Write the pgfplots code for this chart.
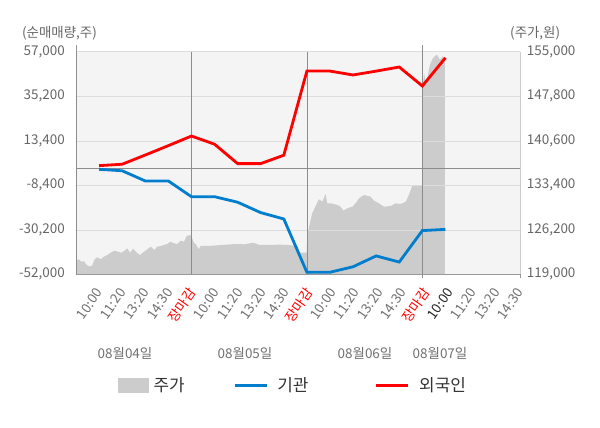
\documentclass[border=0pt]{standalone}
\usepackage{fontspec}
\setmainfont{Noto Sans CJK KR}
\usepackage{pgfplots}
\pgfplotsset{compat=1.18}
\definecolor{bg}{HTML}{F4F4F4}
\definecolor{areagrey}{HTML}{CCCCCC}
\definecolor{gridgrey}{HTML}{DCDCDC}
\definecolor{daygrey}{HTML}{8C8C8C}
\definecolor{axisgrey}{HTML}{999999}
\definecolor{rightaxis}{HTML}{CCCCCC}
\definecolor{labelgrey}{HTML}{666666}
\definecolor{xlabelgrey}{HTML}{707070}
\definecolor{darklabel}{HTML}{222222}
\definecolor{blueline}{RGB}{0,125,205}
\definecolor{redline}{HTML}{FF0000}
\newcommand{\tf}{\fontsize{13.5}{15}\selectfont}
\newcommand{\xl}[1]{{\tf #1}}
\newcommand{\xr}[1]{{\tf\color{redline}#1}}
\pgfplotsset{every axis/.append style={
  /pgf/number format/fixed, /pgf/number format/precision=0,
  /pgf/number format/1000 sep={,},
  /pgf/number format/assume math mode=true}}
\begin{document}
\begin{tikzpicture}
\useasboundingbox (-76bp,-153.7bp) rectangle (524bp,274.3bp);
% price (right axis)
\begin{axis}[at={(0,0)}, anchor=south west, scale only axis,
  width=444bp, height=222.6bp,
  xmin=0, xmax=19.23, ymin=119000, ymax=155000,
  axis x line=none, axis y line*=right,
  y axis line style={draw=rightaxis},
  ytick={119000,126200,133400,140600,147800,155000},
  major tick length=0,
  scaled y ticks=false,
  yticklabel style={anchor=west, inner sep=0pt, xshift=6.7bp, text=labelgrey, font=\tf},
  axis background/.style={fill=bg},
]
\addplot[fill=areagrey, draw=none] coordinates {
(0,121200) (0.13,121430) (0.23,121040) (0.35,121100) (0.46,120500) (0.61,120230)
(0.71,120500) (0.81,121430) (0.92,121750) (1.07,121430) (1.21,121850) (1.36,122120)
(1.5,122490) (1.67,122820) (1.82,122650) (1.96,122490) (2.11,122820) (2.22,123200)
(2.34,122490) (2.48,123140) (2.63,122490) (2.77,122120) (2.95,122650) (3.09,123040)
(3.24,123460) (3.38,122930) (3.52,123460) (3.67,123580) (3.81,123740) (3.95,123900)
(4.1,124270) (4.24,124010) (4.39,123900) (4.53,124430) (4.68,124270) (4.79,125190)
(4.94,125360)
(5.0,125080) (5.11,124110) (5.21,123740) (5.31,123040) (5.40,123580) (5.72,123580)
(6.0,123650) (6.29,123740) (6.6,123800) (6.87,123900) (7.31,123850) (7.67,124110)
(7.96,123740) (8.32,123740) (8.8,123800) (9.18,123740) (9.61,123580) (9.65,122490)
(9.99,122490)
(10.02,125360) (10.13,127250) (10.23,128870) (10.38,130050) (10.52,131130) (10.67,130740)
(10.81,131990) (10.88,130480) (11.03,130480) (11.17,130370) (11.32,130210) (11.46,129930)
(11.58,129290) (11.75,129670) (11.97,129930) (12.11,130480) (12.26,131290) (12.47,131830)
(12.76,131550) (12.91,130900) (13.12,130480) (13.34,129930) (13.63,130050) (13.85,130480)
(14.06,130370) (14.28,130740) (14.42,131830) (14.56,133280) (14.71,133440) (15.0,133440)
(15.02,149130) (15.07,151560) (15.13,150420) (15.19,150310) (15.33,152900) (15.46,153980)
(15.63,154520) (15.76,153710) (15.89,154260) (15.98,153980)
} \closedcycle;
\end{axis}
% net trading (left axis)
\begin{axis}[at={(0,0)}, anchor=south west, scale only axis,
  width=444bp, height=222.6bp,
  xmin=0, xmax=19.23, ymin=-52000, ymax=57000,
  axis x line*=bottom, axis y line*=left,
  x axis line style={draw=axisgrey},
  y axis line style={draw=axisgrey, shorten >=-7bp},
  xtick={1.0121,2.0242,3.0363,4.0484,5.0605,6.0726,7.0847,8.0968,9.1089,10.1211,
         11.1332,12.1453,13.1574,14.1695,15.1816,16.1937,17.2058,18.2179,19.23},
  xticklabels={\xl{10:00},\xl{11:20},\xl{13:20},\xl{14:30},\xr{장마감},
               \xl{10:00},\xl{11:20},\xl{13:20},\xl{14:30},\xr{장마감},
               \xl{10:00},\xl{11:20},\xl{13:20},\xl{14:30},\xr{장마감},
               {\tf\color{darklabel}10:00},\xl{11:20},\xl{13:20},\xl{14:30}},
  xticklabel style={xshift=0bp, yshift=-15.5bp, rotate=55, anchor=east, inner sep=0pt, text=xlabelgrey, font=\tf},
  major tick length=0,
  minor xtick={19.23}, minor tick length=4bp, tick align=outside,
  minor tick style={draw=axisgrey},
  extra x ticks={0,5,10,15}, extra x tick labels={},
  extra x tick style={grid=major, major grid style={draw=daygrey, shorten >=-7bp, shorten <=-4bp}},
  ytick={-52000,-30200,-8400,13400,35200,57000},
  ymajorgrids, major grid style={draw=gridgrey},
  extra y ticks={0}, extra y tick labels={},
  extra y tick style={grid=major, major grid style={draw=daygrey}},
  scaled y ticks=false,
  yticklabel style={anchor=east, inner sep=0pt, xshift=-11bp, text=labelgrey, font=\tf},
  legend image code/.code={\draw[#1] (0bp,0bp) -- (32bp,0bp);},
  legend columns=3,
  legend style={draw=none, fill=none, at={(0,0)}, anchor=west, xshift=39bp, yshift=-111bp,
     font=\fontsize{17}{19}\selectfont, text=black!80,
     nodes={inner sep=0pt}},
  legend entries={\makebox[85bp][l]{\hspace*{5bp}주가}, \makebox[106bp][l]{\hspace*{9bp}기관}, \makebox[60bp][l]{\hspace*{10bp}외국인}},
]
\addlegendimage{legend image code/.code={\fill[areagrey] (0bp,-7bp) rectangle (30bp,7bp);}}
\addplot[blueline, line width=2.8bp] coordinates {
(1,-600) (2,-1300) (3,-6300) (4,-6300) (5,-14000) (6,-14000) (7,-16700) (8,-21800)
(9,-24900) (10,-51000) (11,-51000) (12,-48300) (13,-43000) (14,-46000) (15,-30600) (16,-30000)
};
\addplot[redline, line width=2.8bp] coordinates {
(1,1200) (2,1900) (3,6400) (4,11000) (5,15700) (6,11700) (7,2200) (8,2200)
(9,6300) (10,47500) (11,47500) (12,45600) (13,47500) (14,49500) (15,40200) (16,54000)
};
\end{axis}
\node[anchor=west, text=labelgrey, font=\tf, inner sep=0pt] at (-54bp,240.6bp) {(순매매량,주)};
\node[anchor=west, text=labelgrey, font=\tf, inner sep=0pt] at (434bp,240.6bp) {(주가,원)};
\node[text=xlabelgrey, font=\tf, inner sep=0pt] at (49bp,-79bp) {08월04일};
\node[text=xlabelgrey, font=\tf, inner sep=0pt] at (169bp,-79bp) {08월05일};
\node[text=xlabelgrey, font=\tf, inner sep=0pt] at (289bp,-79bp) {08월06일};
\node[text=xlabelgrey, font=\tf, inner sep=0pt] at (364bp,-79bp) {08월07일};
\end{tikzpicture}
\end{document}
